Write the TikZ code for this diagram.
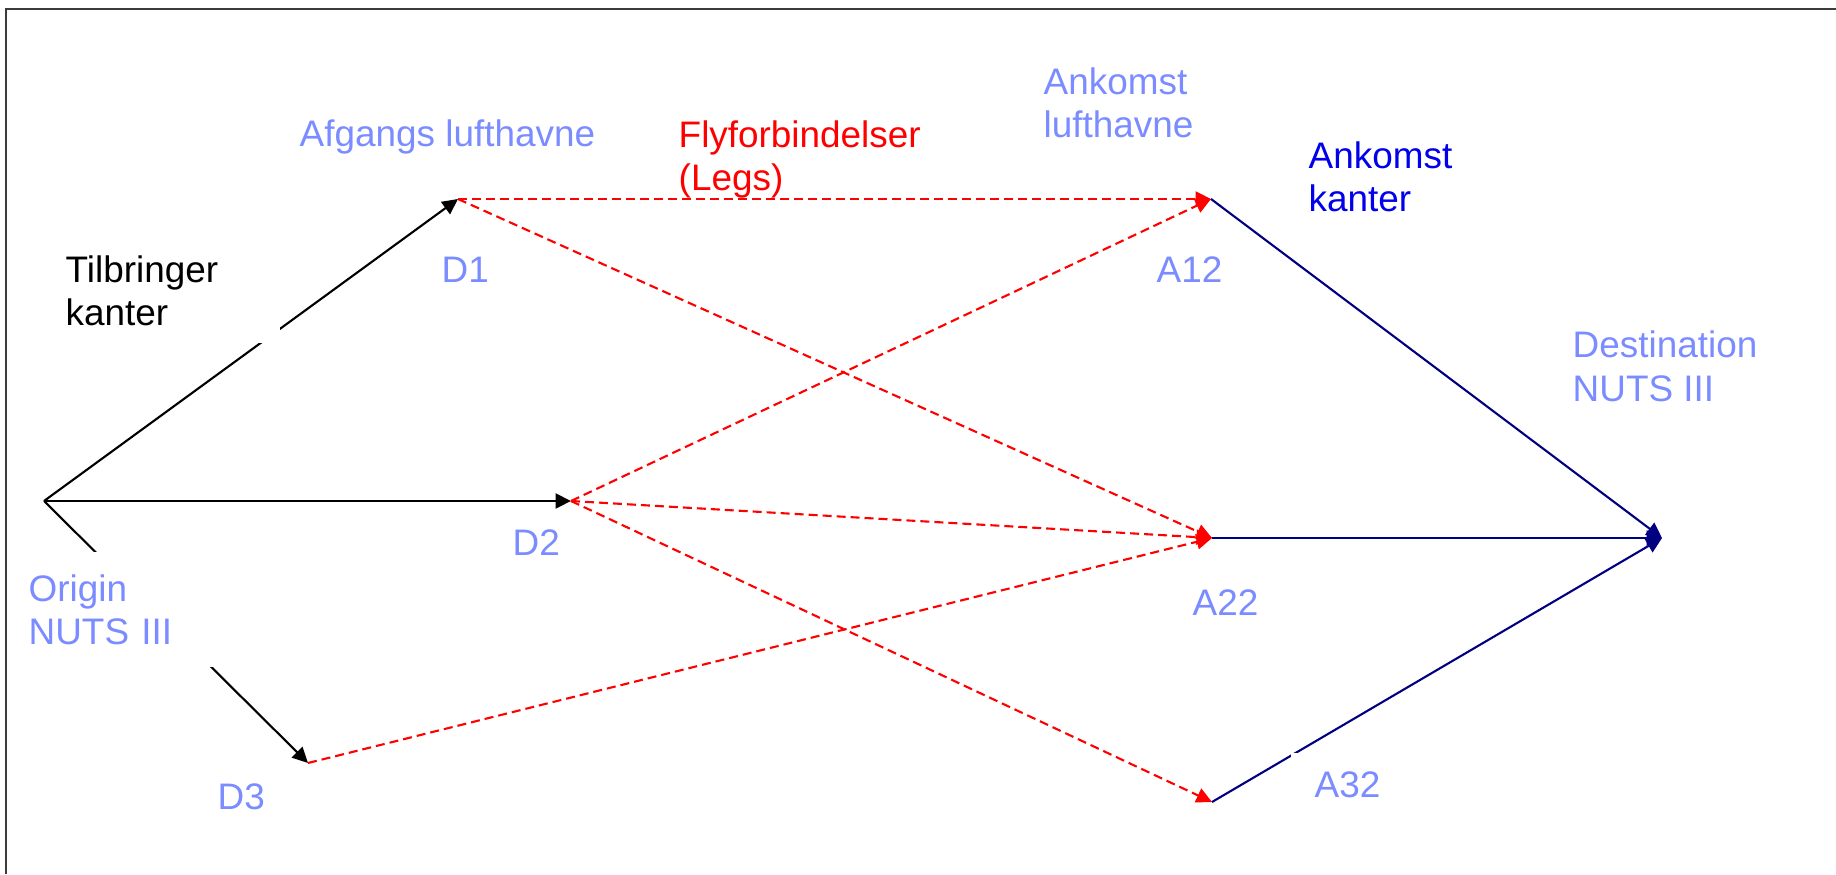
\documentclass[tikz,border=0pt]{standalone}
\usepackage{fontspec}
\setmainfont{Liberation Sans}
\usetikzlibrary{arrows.meta}

\definecolor{airport}{RGB}{122,140,255}
\definecolor{navyline}{RGB}{0,0,128}
\definecolor{kantblue}{RGB}{0,0,235}
\definecolor{framegray}{RGB}{60,60,60}

\begin{document}
\begin{tikzpicture}[every node/.style={font=\fontsize{10.5}{12.5}\selectfont, inner sep=0pt, align=left, anchor=base west},
  tip/.style={-{Triangle[length=1.55mm,width=1.5mm]}},
  feeder/.style={black, line width=0.6pt, tip},
  flight/.style={red, line width=0.6pt, dash pattern=on 0.9mm off 0.5mm, tip},
  arrival/.style={navyline, line width=0.6pt, tip},
  cover/.style={fill=white}]
\useasboundingbox (0,0) rectangle (18.36,8.74);

% origin, departure and arrival airports, destination
\coordinate (O) at (0.44,3.73);
\coordinate (D1) at (4.58,6.75);
\coordinate (D2) at (5.71,3.73);
\coordinate (D3) at (3.08,1.11);
\coordinate (A12) at (12.11,6.75);
\coordinate (A22) at (12.12,3.36);
\coordinate (A32) at (12.12,0.72);
\coordinate (Dst) at (16.62,3.36);

% tilbringer
\draw[feeder] (O) -- (D1);
\draw[feeder] (O) -- (D2);
\draw[feeder] (O) -- (D3);

% legs
\draw[flight] (D1) -- (A12);
\draw[flight] (D1) -- (A22);
\draw[flight] (D2) -- (A12);
\draw[flight] (D2) -- (A22);
\draw[flight] (D2) -- (A32);
\draw[flight] (D3) -- (A22);

% ankomst
\draw[arrival] (A12) -- (Dst);
\draw[arrival] (A22) -- (Dst);
\draw[arrival] (A32) -- (Dst);

% two-line labels without text width sit on their last line
\node[airport] (afg) at (2.99,7.27) {Afgangs lufthavne};
\node[red] (fly) at (6.78,6.83) {Flyforbindelser\\(Legs)};
\node[airport] (ank) at (10.43,7.36) {Ankomst\\lufthavne};
\node[kantblue] (kant) at (13.08,6.62) {Ankomst\\kanter};
\node[black, cover, text width=21.4mm, inner ysep=1.7mm] (tilb) at (0.65,5.92) {Tilbringer\\kanter};
\node[airport, cover, text width=20mm, inner ysep=2.2mm] (orig) at (0.28,2.73) {Origin\\NUTS III};
\node[airport] (lD1) at (4.41,5.91) {D1};
\node[airport] (lD2) at (5.12,3.19) {D2};
\node[airport] (lD3) at (2.17,0.65) {D3};
\node[airport] (lA12) at (11.56,5.91) {A12};
\node[airport] (lA22) at (11.92,2.59) {A22};
\node[airport, cover, inner xsep=2.4mm, inner ysep=1.8mm] (lA32) at (12.90,0.77) {A32};
\node[airport] (dest) at (15.72,4.73) {Destination\\NUTS III};

% frame
\draw[framegray, line width=0.7pt] (0.06,0) |- (18.36,8.65);
\end{tikzpicture}
\end{document}
